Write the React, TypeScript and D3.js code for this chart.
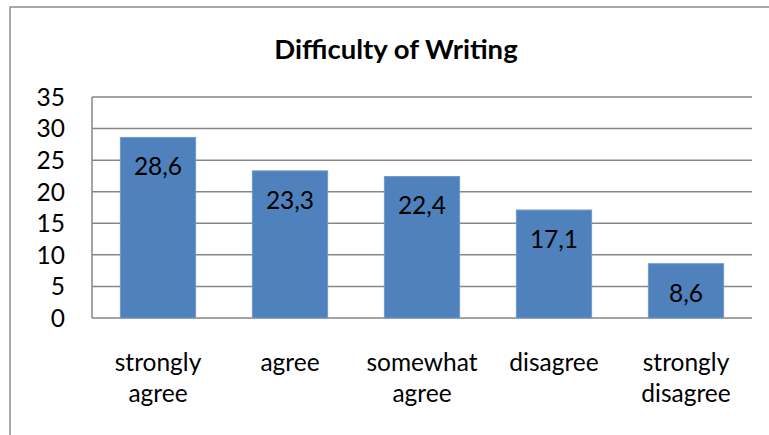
import React from "react";
import * as d3 from "d3";

const categories: string[][] = [
  ["strongly", "agree"],
  ["agree"],
  ["somewhat", "agree"],
  ["disagree"],
  ["strongly", "disagree"],
];
const values: number[] = [28.6, 23.3, 22.4, 17.1, 8.6];
const valueLabels: string[] = ["28,6", "23,3", "22,4", "17,1", "8,6"];
const yTicks: number[] = [0, 5, 10, 15, 20, 25, 30, 35];
const title = "Difficulty of Writing";

const W = 769;
const H = 435;
const plot = { left: 92, right: 752, top: 97, bottom: 318 };
const FONT = "Lato, 'Noto Sans', sans-serif";

export default function App() {
  const x = d3
    .scaleBand<number>()
    .domain(d3.range(values.length))
    .range([plot.left, plot.right])
    .paddingInner(0.43)
    .paddingOuter(0.215);
  const y = d3.scaleLinear().domain([0, 35]).range([plot.bottom, plot.top]);

  return (
    <svg
      width={W}
      height={H}
      style={{ position: "absolute", left: 0, top: 0, display: "block" }}
      fontFamily={FONT}
    >
      <rect x={0} y={0} width={W} height={H} fill="#ffffff" />
      {/* chart frame */}
      <rect x={10} y={7} width={W + 20} height={H + 20} fill="none" stroke="#8c8c8c" strokeWidth={1.5} />
      <text x={396} y={59} textAnchor="middle" fontWeight="bold" fontSize={27.5} fill="#000">
        {title}
      </text>
      {/* gridlines */}
      {yTicks.map((t) => (
        <line key={t} x1={plot.left} x2={plot.right} y1={y(t)} y2={y(t)} stroke="#868686" strokeWidth={1.5} />
      ))}
      <line x1={plot.left} x2={plot.left} y1={plot.top} y2={plot.bottom} stroke="#868686" strokeWidth={1.5} />
      {/* y tick labels */}
      {yTicks.map((t) => (
        <text key={t} x={65} y={y(t)} dy="0.36em" textAnchor="end" fontSize={24.5} fill="#000">
          {t}
        </text>
      ))}
      {/* bars */}
      {values.map((v, i) => (
        <g key={i}>
          <rect
            x={x(i)!}
            y={y(v)}
            width={x.bandwidth()}
            height={y(0) - y(v)}
            fill="#4f81bd"
            stroke="#6f9ad0"
            strokeWidth={1}
          />
          <text
            x={x(i)! + x.bandwidth() / 2}
            y={y(v) + 29}
            dy="0.36em"
            textAnchor="middle"
            fontSize={24.5}
            fill="#000"
          >
            {valueLabels[i]}
          </text>
        </g>
      ))}
      {/* category labels */}
      {categories.map((lines, i) => (
        <text key={i} x={x(i)! + x.bandwidth() / 2} textAnchor="middle" fontSize={24.5} fill="#000">
          {lines.map((l, j) => (
            <tspan key={j} x={x(i)! + x.bandwidth() / 2} y={362 + j * 31.5} dy="0.36em">
              {l}
            </tspan>
          ))}
        </text>
      ))}
    </svg>
  );
}
